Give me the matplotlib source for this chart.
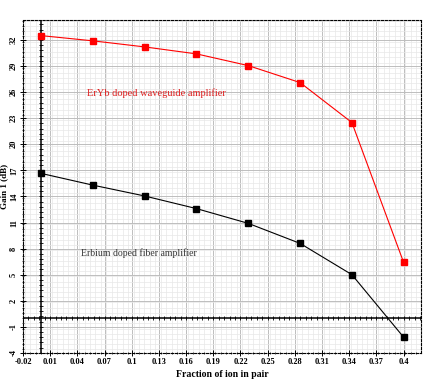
import numpy as np
import matplotlib
matplotlib.use("Agg")
import matplotlib.pyplot as plt
from matplotlib.ticker import MultipleLocator, FixedLocator

# Data
fraction = [0.0, 0.0571, 0.1143, 0.1714, 0.2286, 0.2857, 0.3429, 0.4]
gain_eryb = [32.5, 31.9, 31.2, 30.4, 29.05, 27.1, 22.5, 6.4]
gain_er = [16.65, 15.3, 14.05, 12.6, 10.9, 8.6, 5.0, -2.2]
x_ticks = [-0.02, 0.01, 0.04, 0.07, 0.1, 0.13, 0.16, 0.19, 0.22, 0.25, 0.28, 0.31, 0.34, 0.37, 0.4]
y_ticks = [-4, -1, 2, 5, 8, 11, 14, 17, 20, 23, 26, 29, 32]

serif = ["Liberation Serif", "DejaVu Serif"]

fig = plt.figure(figsize=(4.33, 3.84), dpi=100)
ax = fig.add_axes([0.053, 0.081, 0.919, 0.867])
ax.set_xlim(-0.02, 0.419)
ax.set_ylim(-4, 34.3)

ax.xaxis.set_major_locator(FixedLocator(x_ticks))
ax.yaxis.set_major_locator(FixedLocator(y_ticks))
ax.xaxis.set_minor_locator(MultipleLocator(0.006))
ax.yaxis.set_minor_locator(MultipleLocator(0.6))

ax.grid(which="major", color="#bdbdbd", lw=0.7)
ax.grid(which="minor", color="#e8e8e8", lw=0.5)
ax.set_axisbelow(True)

for s in ax.spines.values():
    s.set_linestyle((0, (2, 1.5)))
    s.set_linewidth(0.8)
    s.set_color("black")

ax.tick_params(which="major", direction="inout", length=4, width=0.7,
               top=False, right=False, labelsize=6, pad=1.5)
ax.tick_params(which="minor", direction="inout", length=2, width=0.5,
               top=False, right=False)

ax.set_xticklabels([("%g" % v) for v in x_ticks], fontfamily=serif, fontweight="bold")
ax.set_yticklabels([("%g" % v) for v in y_ticks], fontfamily=serif, fontweight="bold",
                   rotation=90, va="center")

# axis lines at x=0 and y=0
ax.axvline(0, color="black", lw=1.1, zorder=2)
ax.axhline(0, color="black", lw=1.1, zorder=2)
ymin_t = np.arange(-4, 34.3, 0.6)
ax.plot(np.zeros_like(ymin_t), ymin_t, ls="none", marker="_", ms=3.5, mew=0.6, color="black", zorder=2)
xmin_t = np.arange(-0.02, 0.419, 0.006)
ax.plot(xmin_t, np.zeros_like(xmin_t), ls="none", marker="|", ms=3.5, mew=0.6, color="black", zorder=2)

ax.plot(fraction, gain_eryb, color="#ff0000", lw=0.8, marker="s", ms=4.8,
        markerfacecolor="#ff0000", markeredgecolor="#ff0000", zorder=3)
ax.plot(fraction, gain_er, color="black", lw=0.8, marker="s", ms=4.8,
        markerfacecolor="black", markeredgecolor="black", zorder=3)

ax.text(0.1276, 25.9, "ErYb doped waveguide amplifier", color="#e02020",
        fontsize=7.5, fontfamily=serif, ha="center", va="center")
ax.text(0.108, 7.5, "Erbium doped fiber amplifier", color="#333333",
        fontsize=7, fontfamily=serif, ha="center", va="center")

ax.set_xlabel("Fraction of ion in pair", fontfamily=serif, fontweight="bold",
              fontsize=7, labelpad=3)
ax.set_ylabel("Gain 1 (dB)", fontfamily=serif, fontweight="bold", fontsize=6.5)
ax.yaxis.set_label_coords(-0.038, 0.5)

fig.savefig("out.png", dpi=100)
